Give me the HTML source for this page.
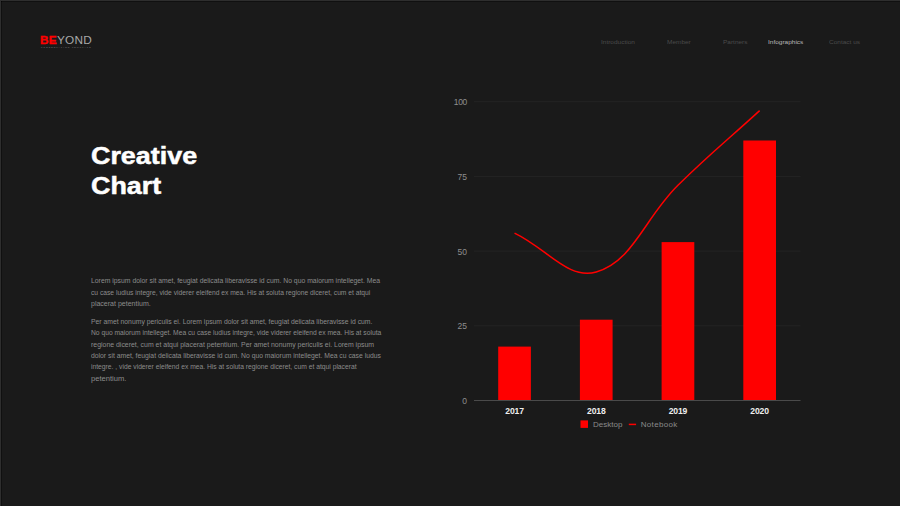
<!DOCTYPE html>
<html><head><meta charset="utf-8">
<style>
*{margin:0;padding:0;box-sizing:border-box}
html,body{width:900px;height:506px;overflow:hidden;background:#1a1a1a}
body{position:relative;font-family:"Liberation Sans",sans-serif}
.bt{position:absolute;left:0;top:0;width:900px;height:1px;background:#2e2e2e}
.bt2{position:absolute;left:1px;top:1px;width:899px;height:1px;background:#101010}
.bl{position:absolute;left:0;top:0;width:1px;height:506px;background:#2e2e2e}
.bl2{position:absolute;left:1px;top:1px;width:1px;height:505px;background:#101010}
.logo{position:absolute;left:40px;top:34.3px;font-size:11.8px;line-height:12px;white-space:nowrap;letter-spacing:0.25px}
.logo b{color:#ff0000;font-weight:bold;-webkit-text-stroke:0.35px #ff0000}
.logo span{color:#a8a8a8}
.logo .sub{position:absolute;left:1px;top:11.6px;font-size:2.2px;line-height:2px;color:#7a7a7a;letter-spacing:1.05px}
.nav{position:absolute;top:37.5px;font-size:5.7px;line-height:8px;color:#4a4a4a;white-space:nowrap;transform:scaleX(1.14);transform-origin:0 0}
.nav.act{color:#b8b8b8}
.title{position:absolute;left:91px;top:141px;font-size:24px;line-height:29.5px;font-weight:bold;color:#fff;white-space:nowrap;transform:scaleX(1.12);transform-origin:0 0;-webkit-text-stroke:0.5px #fff}
.p{position:absolute;left:91px;font-size:6.4px;transform-origin:0 0;line-height:11.2px;color:#8c8c8c;white-space:nowrap}
svg{position:absolute;left:0;top:0}
</style></head><body>
<div class="bt"></div><div class="bl"></div><div class="bt2"></div><div class="bl2"></div><div style="position:absolute;left:1px;top:1px;width:1px;height:1px;background:#060606"></div>
<div class="logo"><b>BE</b><span>YOND</span><div class="sub">PRESENTATION TEMPLATE</div></div>
<div class="nav" style="left:601px">Introduction</div>
<div class="nav" style="left:667px">Member</div>
<div class="nav" style="left:723px">Partners</div>
<div class="nav act" style="left:768px">Infographics</div>
<div class="nav" style="left:829px">Contact us</div>
<div class="title">Creative<br>Chart</div>
<div class="p" id="l0" style="top:275.4px;transform:scaleX(1.0694)">Lorem ipsum dolor sit amet, feugiat delicata liberavisse id cum. No quo maiorum intelleget. Mea</div>
<div class="p" id="l1" style="top:286.8px;transform:scaleX(1.0483)">cu case ludius integre, vide viderer eleifend ex mea. His at soluta regione diceret, cum et atqui</div>
<div class="p" id="l2" style="top:297.8px;transform:scaleX(1.0981)">placerat petentium.</div>
<div class="p" id="l3" style="top:316.0px;transform:scaleX(1.0663)">Per amet nonumy periculis ei. Lorem ipsum dolor sit amet, feugiat delicata liberavisse id cum.</div>
<div class="p" id="l4" style="top:327.3px;transform:scaleX(1.0502)">No quo maiorum intelleget. Mea cu case ludius integre, vide viderer eleifend ex mea. His at soluta</div>
<div class="p" id="l5" style="top:338.6px;transform:scaleX(1.0828)">regione diceret, cum et atqui placerat petentium. Per amet nonumy periculis ei. Lorem ipsum</div>
<div class="p" id="l6" style="top:349.9px;transform:scaleX(1.0641)">dolor sit amet, feugiat delicata liberavisse id cum. No quo maiorum intelleget. Mea cu case ludus</div>
<div class="p" id="l7" style="top:361.2px;transform:scaleX(1.0530)">integre. , vide viderer eleifend ex mea. His at soluta regione diceret, cum et atqui placerat</div>
<div class="p" id="l8" style="top:372.5px;transform:scaleX(1.1857)">petentium.</div>
<svg width="900" height="506" viewBox="0 0 900 506">
<g stroke="#242424" stroke-width="1">
<line x1="474" y1="101.7" x2="800.5" y2="101.7"/>
<line x1="474" y1="176.4" x2="800.5" y2="176.4"/>
<line x1="474" y1="251.1" x2="800.5" y2="251.1"/>
<line x1="474" y1="325.8" x2="800.5" y2="325.8"/>
</g>
<g fill="#ff0000">
<rect x="498.2" y="346.6" width="32.7" height="53.8"/>
<rect x="579.9" y="319.7" width="32.7" height="80.7"/>
<rect x="661.6" y="242.1" width="32.7" height="158.3"/>
<rect x="743.3" y="140.5" width="32.7" height="259.9"/>
</g>
<line x1="474" y1="400.5" x2="800.5" y2="400.5" stroke="#4a4a4a" stroke-width="1"/>
<path d="M514.55 233.13 C547.23 248.66 568.03 280.21 596.25 271.96 C633.39 261.10 644.08 218.77 677.95 185.34 C709.44 154.25 726.97 140.53 759.65 110.66" fill="none" stroke="#ff0000" stroke-width="1.5"/>
<g font-family="Liberation Sans" font-size="8.5" fill="#8e8e8e" text-anchor="end">
<text x="467" y="104.8" letter-spacing="-0.3">100</text>
<text x="467" y="179.5">75</text>
<text x="467" y="254.5">50</text>
<text x="467" y="329">25</text>
<text x="467" y="403.7">0</text>
</g>
<g font-family="Liberation Sans" font-size="8.6" font-weight="bold" fill="#eeeeee" letter-spacing="-0.15" text-anchor="middle">
<text x="514.6" y="413.5">2017</text>
<text x="596.3" y="413.5">2018</text>
<text x="678" y="413.5">2019</text>
<text x="759.6" y="413.5">2020</text>
</g>
<rect x="580.5" y="420.4" width="7.5" height="7.5" fill="#ff0000"/>
<line x1="628.8" y1="424.4" x2="636.1" y2="424.4" stroke="#ff0000" stroke-width="1.5"/>
<g font-family="Liberation Sans" font-size="8" fill="#8a8a8a">
<text x="593" y="427.3">Desktop</text>
<text x="640.8" y="427.3" letter-spacing="0.3">Notebook</text>
</g>
</svg>
</body></html>
